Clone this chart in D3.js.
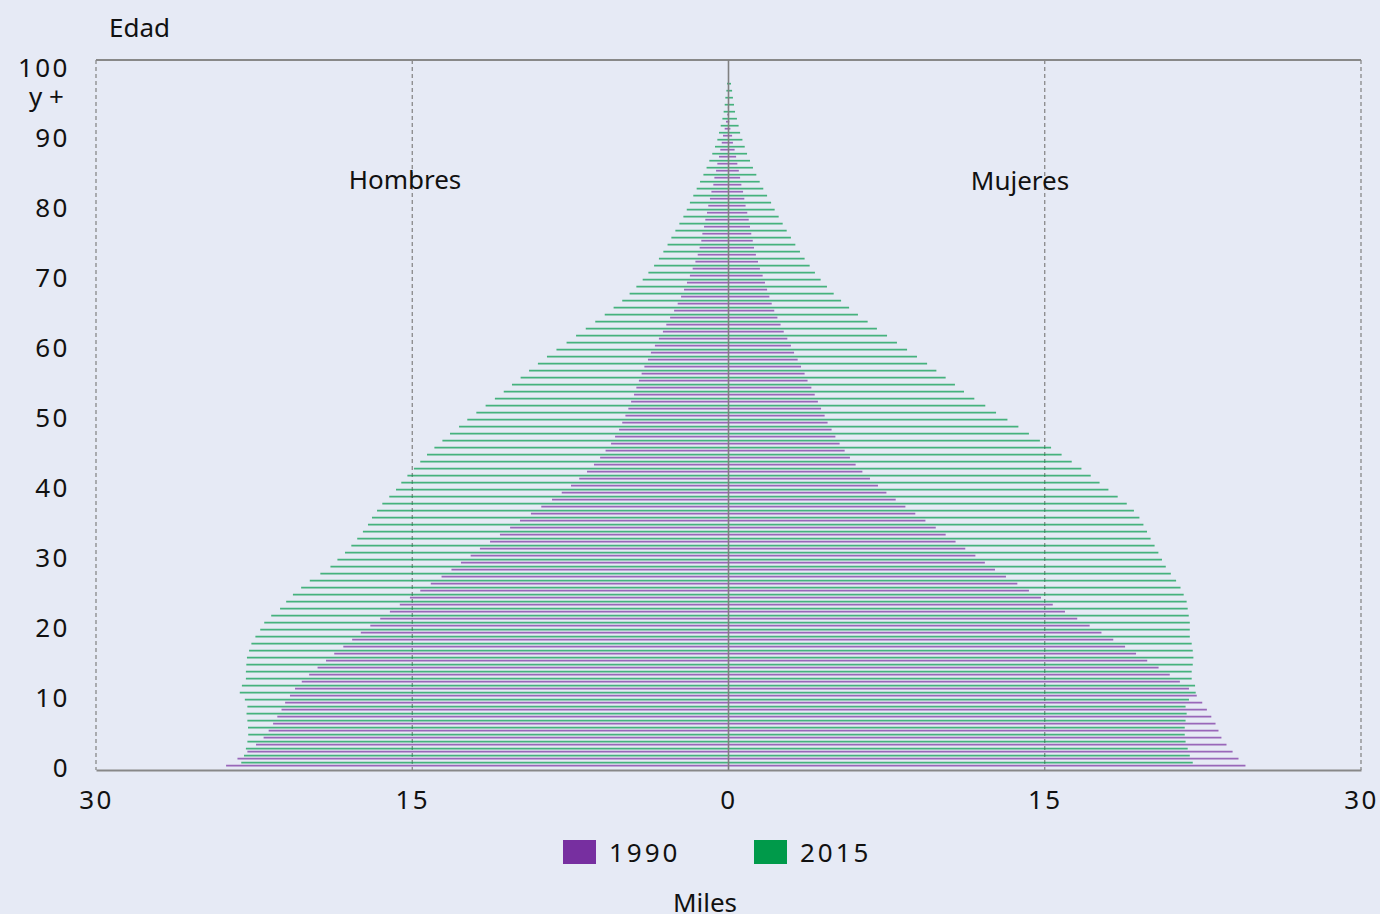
<!DOCTYPE html>
<html>
<head>
<meta charset="utf-8">
<script src="https://cdn.jsdelivr.net/npm/d3@7"></script>
<style>
  html, body { margin: 0; padding: 0; background: #e6eaf5; }
  svg { display: block; }
  text { font-family: "Noto Sans", sans-serif; fill: #111; }
</style>
</head>
<body>
<svg id="chart" width="1380" height="914"></svg>
<script>

// ages 0..100 (single years)
const ages = d3.range(0, 101)

// miles de personas
const hombres1990 = [
  23.83, 23.29, 22.82, 22.41, 22.05, 21.81, 21.60, 21.40, 21.20, 21.03,
  20.80, 20.56, 20.24, 19.89, 19.49, 19.09, 18.70, 18.27, 17.85, 17.44,
  16.99, 16.52, 16.06, 15.59, 15.11, 14.62, 14.12, 13.61, 13.14, 12.69,
  12.23, 11.79, 11.31, 10.84, 10.36, 9.89, 9.37, 8.88, 8.37, 7.91,
  7.47, 7.08, 6.71, 6.38, 6.09, 5.83, 5.57, 5.38, 5.19, 5.04,
  4.89, 4.75, 4.62, 4.48, 4.37, 4.25, 4.12, 3.99, 3.82, 3.68,
  3.49, 3.30, 3.11, 2.95, 2.77, 2.58, 2.41, 2.25, 2.11, 1.97,
  1.83, 1.70, 1.57, 1.46, 1.37, 1.29, 1.24, 1.16, 1.10, 1.02,
  0.96, 0.88, 0.81, 0.72, 0.67, 0.59, 0.53, 0.45, 0.39, 0.32,
  0.26, 0.18, 0.12, 0.06, 0.03, 0.02, 0.01, 0, 0, 0, 0
]
const hombres2015 = [
  23.11, 22.98, 22.89, 22.82, 22.78, 22.79, 22.82, 22.86, 22.82, 22.94,
  23.18, 23.08, 22.89, 22.89, 22.87, 22.84, 22.74, 22.63, 22.44, 22.21,
  22.02, 21.69, 21.27, 20.98, 20.66, 20.27, 19.86, 19.36, 18.88, 18.55,
  18.19, 17.89, 17.61, 17.34, 17.10, 16.91, 16.67, 16.42, 16.09, 15.77,
  15.52, 15.23, 14.92, 14.62, 14.30, 13.95, 13.57, 13.21, 12.78, 12.39,
  11.96, 11.52, 11.08, 10.66, 10.27, 9.86, 9.46, 9.04, 8.61, 8.16,
  7.68, 7.23, 6.77, 6.32, 5.87, 5.45, 5.04, 4.69, 4.37, 4.07,
  3.80, 3.53, 3.30, 3.09, 2.89, 2.71, 2.52, 2.33, 2.14, 1.98,
  1.83, 1.67, 1.51, 1.35, 1.19, 1.04, 0.91, 0.77, 0.64, 0.53,
  0.45, 0.37, 0.29, 0.23, 0.18, 0.15, 0.10, 0.07, 0, 0, 0
]
const mujeres1990 = [
  24.52, 24.19, 23.91, 23.62, 23.38, 23.24, 23.10, 22.90, 22.69, 22.47,
  22.21, 21.84, 21.41, 20.93, 20.40, 19.86, 19.33, 18.81, 18.25, 17.69,
  17.13, 16.54, 15.96, 15.38, 14.82, 14.25, 13.70, 13.16, 12.64, 12.16,
  11.71, 11.23, 10.77, 10.30, 9.83, 9.34, 8.86, 8.39, 7.93, 7.49,
  7.09, 6.71, 6.35, 6.03, 5.76, 5.51, 5.27, 5.07, 4.89, 4.70,
  4.56, 4.39, 4.24, 4.09, 3.93, 3.75, 3.61, 3.44, 3.28, 3.11,
  2.96, 2.79, 2.62, 2.47, 2.32, 2.17, 2.05, 1.94, 1.83, 1.73,
  1.62, 1.49, 1.40, 1.30, 1.21, 1.15, 1.08, 1.02, 0.96, 0.89,
  0.81, 0.75, 0.69, 0.61, 0.55, 0.49, 0.42, 0.36, 0.29, 0.21,
  0.17, 0.09, 0.04, 0.02, 0, 0, 0, 0, 0, 0, 0
]
const mujeres2015 = [
  22.02, 21.88, 21.78, 21.68, 21.64, 21.64, 21.68, 21.73, 21.68, 21.84,
  22.16, 22.13, 21.97, 21.97, 22.02, 22.05, 22.02, 21.97, 21.88, 21.88,
  21.88, 21.83, 21.78, 21.73, 21.59, 21.44, 21.23, 20.98, 20.74, 20.56,
  20.39, 20.21, 20.02, 19.85, 19.68, 19.49, 19.23, 18.89, 18.46, 18.02,
  17.60, 17.18, 16.74, 16.28, 15.80, 15.30, 14.77, 14.25, 13.75, 13.23,
  12.69, 12.18, 11.66, 11.17, 10.74, 10.30, 9.86, 9.42, 8.94, 8.47,
  7.99, 7.52, 7.04, 6.60, 6.14, 5.72, 5.34, 4.99, 4.67, 4.37,
  4.10, 3.85, 3.61, 3.39, 3.17, 2.96, 2.76, 2.57, 2.38, 2.19,
  2.02, 1.83, 1.65, 1.48, 1.32, 1.16, 1.02, 0.88, 0.77, 0.66,
  0.55, 0.48, 0.40, 0.31, 0.26, 0.21, 0.17, 0.12, 0, 0, 0
]

const xTicks = [-30, -15, 0, 15, 30]
const yTicks = [0, 10, 20, 30, 40, 50, 60, 70, 80, 90, 100]
const years = ['1990', '2015']
const colors = { '1990': '#772fa0', '2015': '#009a4a' }

const svg = d3.select('#chart')

const x = d3.scaleLinear().domain([-30, 30]).range([96, 1361])
const y = d3.scaleLinear().domain([0, 100]).range([769, 69])

const plotTop = 60, plotBottom = 770

// grid lines
svg.append('g').selectAll('line')
    .data(xTicks.filter(d => d !== 0))
    .enter().append('line')
    .attr('x1', d => x(d)).attr('x2', d => x(d))
    .attr('y1', plotTop).attr('y2', plotBottom)
    .attr('stroke', '#808080')
    .attr('stroke-width', 1.2)
    .attr('stroke-dasharray', '4,3')

svg.append('line')
    .attr('x1', x(-30)).attr('x2', x(30))
    .attr('y1', plotTop).attr('y2', plotTop)
    .attr('stroke', '#888').attr('stroke-width', 2)

// bars as thin lines, one row per age and year
const series = [
  { year: '2015', side: -1, values: hombres2015, dy: -6.3 },
  { year: '1990', side: -1, values: hombres1990, dy: -3.3 },
  { year: '2015', side: 1, values: mujeres2015, dy: -6.3 },
  { year: '1990', side: 1, values: mujeres1990, dy: -3.3 }
]

const bars = svg.append('g').attr('id', 'bars')

series.forEach(s => {
    bars.append('g').selectAll('line')
        .data(ages.filter(a => s.values[a] > 0))
        .enter().append('line')
        .attr('x1', x(0))
        .attr('x2', a => x(s.side * s.values[a]))
        .attr('y1', a => y(a) + s.dy)
        .attr('y2', a => y(a) + s.dy)
        .attr('stroke', colors[s.year])
        .attr('stroke-width', 1.7)
        .attr('stroke-opacity', 0.7)
})

// center line
svg.append('line')
    .attr('x1', x(0)).attr('x2', x(0))
    .attr('y1', plotTop).attr('y2', plotBottom)
    .attr('stroke', '#808080').attr('stroke-width', 1.6)

// x axis
const xAxis = d3.axisBottom(x).tickValues(xTicks).tickFormat(d => Math.abs(d)).tickSize(0).tickPadding(21)
const xg = svg.append('g').attr('transform', `translate(0,${plotBottom})`).call(xAxis)
xg.select('.domain').attr('stroke', '#888').attr('stroke-width', 2)
xg.selectAll('.tick text').style('font-size', '26px').style('letter-spacing', '2.5px')
    .attr('font-family', null).attr('fill', '#111')

// y axis
const yAxis = d3.axisLeft(y).tickValues(yTicks).tickSize(0).tickPadding(26)
const yg = svg.append('g').attr('transform', `translate(${x(-30)},0)`).call(yAxis)
yg.select('.domain').remove()
yg.selectAll('.tick text').style('font-size', '26px').style('letter-spacing', '2.5px')
    .attr('font-family', null).attr('fill', '#111')
    .attr('dy', '0.3em')
yg.selectAll('.tick').filter(d => d === 100).append('text')
    .attr('x', -32).attr('y', 29).attr('dy', '0.3em')
    .attr('text-anchor', 'end')
    .style('font-size', '26px')
    .text('y +')

svg.append('text').attr('x', 109).attr('y', 28).attr('dy', '0.34em')
    .style('font-size', '26px').text('Edad')

svg.append('text').attr('x', 405).attr('y', 180).attr('dy', '0.34em')
    .attr('text-anchor', 'middle').style('font-size', '26px').text('Hombres')
svg.append('text').attr('x', 1020).attr('y', 181).attr('dy', '0.34em')
    .attr('text-anchor', 'middle').style('font-size', '26px').text('Mujeres')

// legend
const legend = svg.append('g').selectAll('g')
    .data(years)
    .enter().append('g')
    .attr('transform', (d, i) => `translate(${563 + i * 191},840)`)

legend.append('rect').attr('width', 33).attr('height', 24).attr('fill', d => colors[d])
legend.append('text').attr('x', 46).attr('y', 13).attr('dy', '0.36em')
    .style('font-size', '26px').style('letter-spacing', '3px').text(d => d)

svg.append('text').attr('x', 705).attr('y', 903).attr('dy', '0.34em')
    .attr('text-anchor', 'middle').style('font-size', '26px').text('Miles')

</script>
</body>
</html>
